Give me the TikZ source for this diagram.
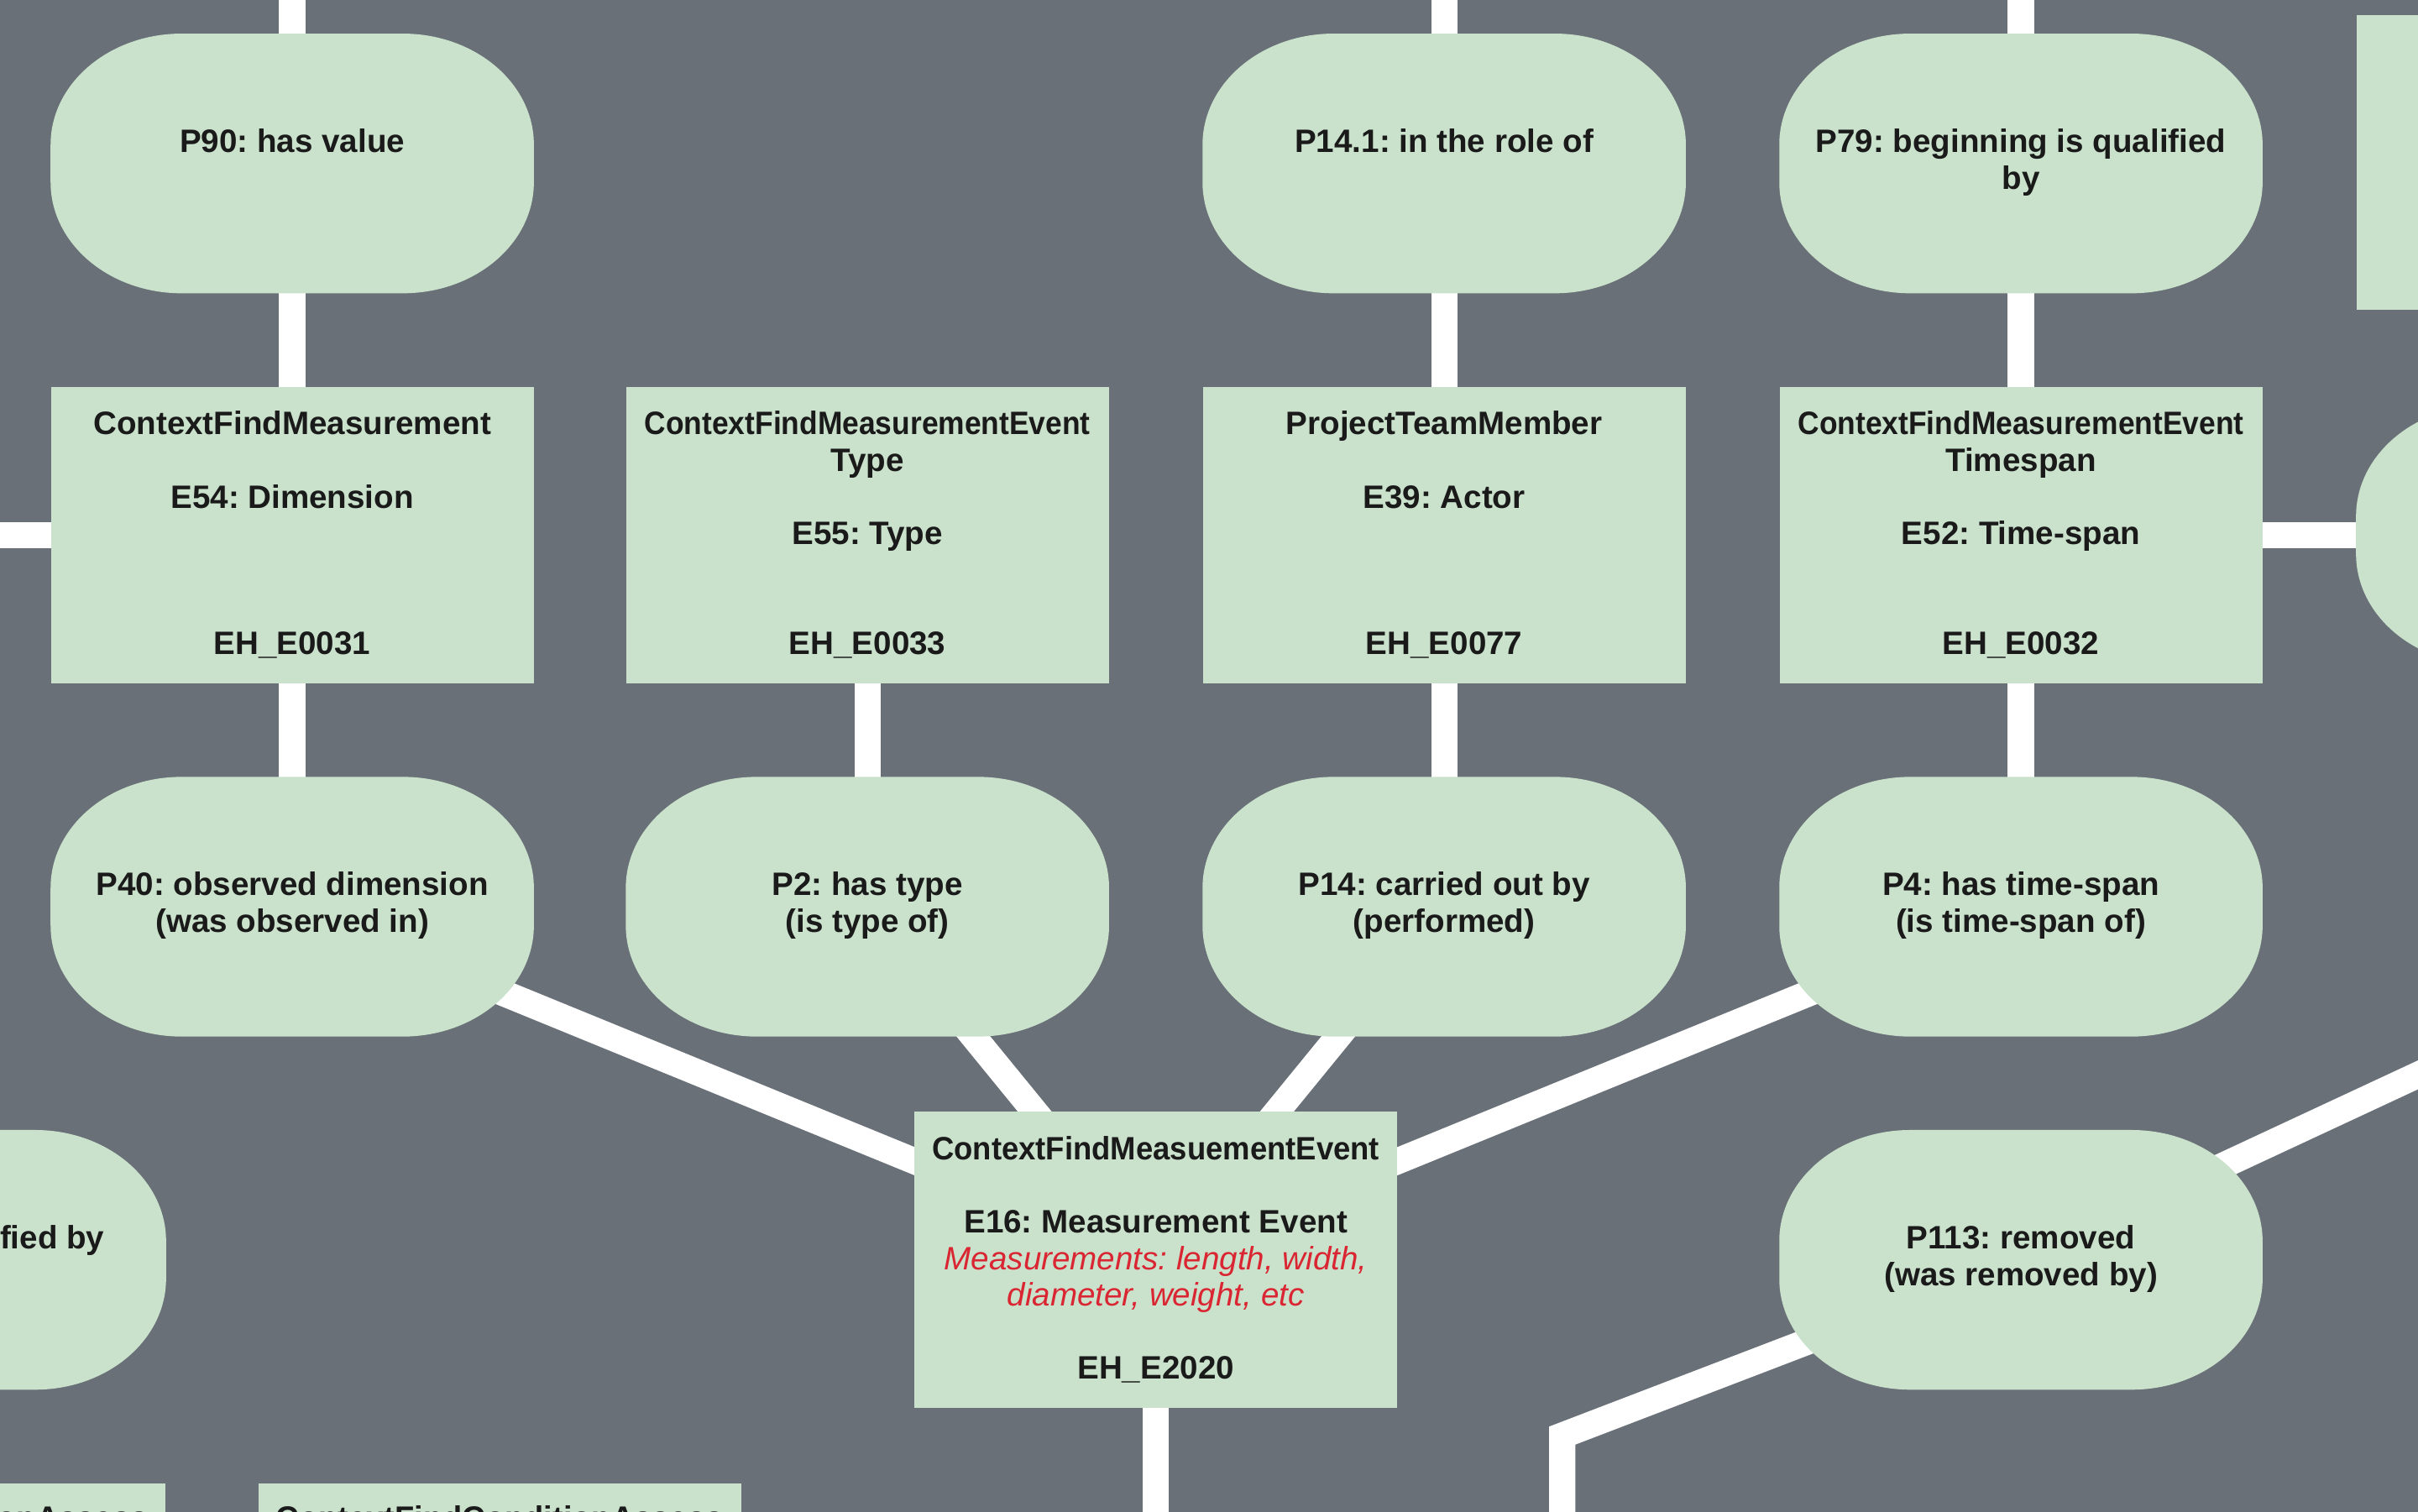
\documentclass[tikz,border=0pt]{standalone}
\usepackage{fontspec}
\setmainfont{Liberation Sans}
\usepackage{graphicx}
\definecolor{bggray}{HTML}{697077}
\definecolor{nodegreen}{HTML}{CAE2CC}
\definecolor{textdark}{HTML}{1A1A1A}
\definecolor{redtxt}{HTML}{DA2532}
\pgfdeclarelayer{bg}
\pgfdeclarelayer{mid}
\pgfsetlayers{bg,mid,main}
\newcommand{\propfill}[1]{%
  \fill[nodegreen] ([xshift=85pt]#1.north west) -- ([xshift=-85pt]#1.north east)
    arc[start angle=90,end angle=0,x radius=85pt,y radius=72pt]
    -- ([yshift=72pt]#1.south east)
    arc[start angle=0,end angle=-90,x radius=85pt,y radius=72pt]
    -- ([xshift=85pt]#1.south west)
    arc[start angle=270,end angle=180,x radius=85pt,y radius=72pt]
    -- ([yshift=-72pt]#1.north west)
    arc[start angle=180,end angle=90,x radius=85pt,y radius=72pt] -- cycle;}
\newcommand{\sqz}[2]{\resizebox{#1pt}{\height}{#2}}
\newcommand{\redline}[1]{{\mdseries\itshape\color{redtxt}#1}}
\newcommand{\tstrut}{\rule{0pt}{19.5pt}}
\tikzset{
  boxnode/.style={rectangle, fill=nodegreen, minimum width=313pt, minimum height=192pt,
    inner sep=0pt, align=center, text=textdark, font=\bfseries\fontsize{21}{23.75}\selectfont\frenchspacing},
  propnode/.style={rectangle, minimum width=313pt, minimum height=168pt,
    inner sep=0pt, align=center, text=textdark, font=\bfseries\fontsize{21}{24}\selectfont\frenchspacing},
  link/.style={draw=white, line width=17pt},
}
\begin{document}
\begin{tikzpicture}[x=1pt,y=1pt]
\useasboundingbox (0,-980) rectangle (1568,0);

% property ovals
\node[propnode] (p90)  at (189.5,-106) {\strut P90: has value\\ \strut};
\node[propnode] (p141) at (936.5,-106) {\strut P14.1: in the role of\\ \strut};
\node[propnode] (p79)  at (1310.5,-106) {\strut P79: beginning is qualified\\ by\strut};
\node[propnode] (p40)  at (189.5,-588) {\strut P40: observed dimension\\ (was observed in)\strut};
\node[propnode] (p2)   at (562.5,-588) {\strut P2: has type\\ (is type of)\strut};
\node[propnode] (p14)  at (936.5,-588) {\strut P14: carried out by\\ (performed)\strut};
\node[propnode] (p4)   at (1310.5,-588) {\strut P4: has time-span\\ (is time-span of)\strut};
\node[propnode] (p113) at (1310.5,-817) {\strut P113: removed\\ (was removed by)\strut};
\node[propnode] (p80r) at (1684.5,-347) {\strut P80: end is qualified by\\ \strut};
\node[propnode] (p80l) at (-49,-817) {\strut P80: end is qualified by\\ \strut};

% entity boxes
\node[boxnode] (dim) at (189.5,-347) {\tstrut ContextFindMeasurement\\ \mbox{}\\ E54: Dimension\\ \mbox{}\\ \mbox{}\\ \mbox{}\\ EH\_E0031\strut};
\node[boxnode] (typ) at (562.5,-347) {\tstrut\sqz{289}{ContextFindMeasurementEvent}\\ Type\\ \mbox{}\\ E55: Type\\ \mbox{}\\ \mbox{}\\ EH\_E0033\strut};
\node[boxnode] (act) at (936.5,-347) {\tstrut ProjectTeamMember\\ \mbox{}\\ E39: Actor\\ \mbox{}\\ \mbox{}\\ \mbox{}\\ EH\_E0077\strut};
\node[boxnode] (tsp) at (1310.5,-347) {\tstrut\sqz{289}{ContextFindMeasurementEvent}\\ Timespan\\ \mbox{}\\ E52: Time-span\\ \mbox{}\\ \mbox{}\\ EH\_E0032\strut};
\node[boxnode] (main) at (749.5,-817) {\tstrut\sqz{290}{ContextFindMeasuementEvent}\\ \mbox{}\\ E16: Measurement Event\\ \redline{Measurements: length, width,}\\ \redline{diameter, weight, etc}\\ \mbox{}\\ EH\_E2020\strut};
\node[boxnode, minimum height=191pt] (trbox) at (1684.5,-105.5) {};
\node[boxnode] (botl) at (-49,-1058) {\strut\sqz{290}{ContextFindConditionAssess}\\ ment\\ \mbox{}\\ \mbox{}\\ \mbox{}\\ \mbox{}\\ \strut};
\node[boxnode] (botr) at (324,-1058) {\strut\sqz{290}{ContextFindConditionAssess}\\ ment\\ \mbox{}\\ \mbox{}\\ \mbox{}\\ \mbox{}\\ \strut};

% free ends of connectors
\coordinate (up1) at (189.5,60);
\coordinate (up2) at (936.5,60);
\coordinate (up3) at (1310.5,60);
\coordinate (leftend) at (-150,-347);
\coordinate (down1) at (749.5,-1060);
\coordinate (rightend) at (1868.5,-557);
\coordinate (elbow) at (1013,-931);
\coordinate (down2) at (1013,-1060);

\begin{pgfonlayer}{bg}
\fill[bggray] (-300,-1200) rectangle (2000,200);
\draw[link] (up1) -- (p90.center);
\draw[link] (up2) -- (p141.center);
\draw[link] (up3) -- (p79.center);
\draw[link] (p90.center) -- (dim.center);
\draw[link] (p141.center) -- (act.center);
\draw[link] (p79.center) -- (tsp.center);
\draw[link] (dim.center) -- (p40.center);
\draw[link] (typ.center) -- (p2.center);
\draw[link] (act.center) -- (p14.center);
\draw[link] (tsp.center) -- (p4.center);
\draw[link] (leftend) -- (dim.center);
\draw[link] (tsp.center) -- (p80r.center);
\draw[link] (p40.center) -- (main.center);
\draw[link] (p2.center) -- (main.center);
\draw[link] (p14.center) -- (main.center);
\draw[link] (p4.center) -- (main.center);
\draw[link] (main.center) -- (down1);
\draw[link] (p113.center) -- (rightend);
\draw[link] (p113.center) -- (elbow) -- (down2);
\end{pgfonlayer}

\begin{pgfonlayer}{mid}
\foreach \n in {p90,p141,p79,p40,p2,p14,p4,p113,p80r,p80l}{\propfill{\n}}
\end{pgfonlayer}
\end{tikzpicture}
\end{document}
